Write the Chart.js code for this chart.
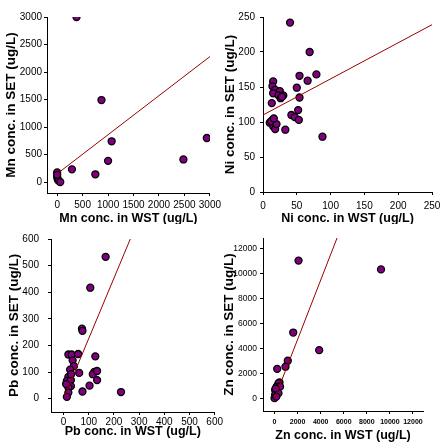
<!DOCTYPE html>
<html>
<head>
<meta charset="utf-8">
<script src="https://cdn.jsdelivr.net/npm/chart.js@4.4.0/dist/chart.umd.min.js"></script>
<style>
  html, body { margin: 0; padding: 0; background: #fff; }
  .panel { position: absolute; width: 224px; height: 224px; }
</style>
</head>
<body>
<div class="panel" style="left:0;top:0"><canvas id="g-mn" width="224" height="224"></canvas></div>
<div class="panel" style="left:224px;top:0"><canvas id="g-ni" width="224" height="224"></canvas></div>
<div class="panel" style="left:0;top:224px"><canvas id="g-pb" width="224" height="224"></canvas></div>
<div class="panel" style="left:224px;top:224px"><canvas id="g-zn" width="224" height="224"></canvas></div>
<script>
// Mn
const MN_X = [380, 870, 1070, 1000, 750, 290, 2480, 2940, 0, 0, 10, 30, 60, 0];
const MN_Y = [3000, 1490, 740, 385, 140, 230, 410, 800, 175, 90, 50, 20, 0, 130];
const MN_TREND_X = [0, 3000];
const MN_TREND_Y = [150, 2280];
const MN_TICKS = [0, 500, 1000, 1500, 2000, 2500, 3000];

// Ni
const NI_X = [40, 69, 54, 66, 79, 15, 14, 18, 25, 15, 23, 30, 26, 50, 54, 13, 52, 42, 47, 53, 14, 10, 15, 18, 33, 88, 12, 20, 16, 28];
const NI_Y = [242, 200, 166, 159, 168, 158, 151, 146, 144, 141, 138, 138, 134, 149, 135, 127, 117, 110, 107, 103, 103, 99, 94, 90, 89, 79, 101, 97, 105, 136];
const NI_TREND_X = [0, 250];
const NI_TREND_Y = [110, 239];
const NI_TICKS = [0, 50, 100, 150, 200, 250];

// Pb
const PB_X = [167, 106, 73, 75, 19, 32, 58, 126, 36, 41, 26, 62, 122, 116, 133, 19, 13, 29, 133, 103, 29, 19, 75, 228, 19, 13, 10, 30];
const PB_Y = [533, 417, 263, 255, 166, 166, 168, 159, 144, 122, 109, 97, 101, 92, 104, 82, 67, 70, 70, 49, 47, 42, 27, 25, 23, 7, 55, 92];
const PB_TREND_X = [4, 265];
const PB_TREND_Y = [9, 600];
const PB_TICKS = [0, 100, 200, 300, 400, 500, 600];

// Zn
const ZN_X = [2080, 9230, 1620, 3870, 1150, 950, 230, 430, 290, 350, 200, 50, 200, 50, 0, 480, 340, 100, 150];
const ZN_Y = [11060, 10350, 5290, 3880, 3030, 2550, 2380, 1300, 1090, 1230, 960, 690, 560, 300, 30, 950, 430, 800, 150];
const ZN_TREND_X = [30, 5420];
const ZN_TREND_Y = [50, 12870];
const ZN_TICKS = [0, 2000, 4000, 6000, 8000, 10000, 12000];

const FAMILIA = 'Arial, "Liberation Sans", sans-serif';

function puntos(xs, ys) {
  return xs.map((x, i) => ({ x, y: ys[i] }));
}

function crearPanel(id, p) {
  const ejeX = {
    type: 'linear',
    min: p.xMin,
    max: p.xMax,
    afterBuildTicks: (s) => { s.ticks = p.xTicks.map((v) => ({ value: v })); },
    afterFit: (s) => { s.height = p.altoX; },
    grid: { drawOnChartArea: false, tickLength: 3, color: '#000' },
    border: { color: '#000' },
    ticks: {
      font: p.fuenteX, color: '#000', padding: p.padX, maxRotation: 0, autoSkip: false,
      callback: (v) => String(v),
    },
    title: {
      display: true, text: p.tituloX, color: '#000',
      font: { family: FAMILIA, size: 12.5, weight: 'bold' },
      padding: { top: 0, bottom: p.padTituloX },
    },
  };
  const ejeY = {
    type: 'linear',
    min: p.yMin,
    max: p.yMax,
    afterBuildTicks: (s) => { s.ticks = p.yTicks.map((v) => ({ value: v })); },
    afterFit: (s) => { s.width = p.anchoY; },
    grid: { drawOnChartArea: false, tickLength: 3, color: '#000' },
    border: { color: '#000' },
    ticks: {
      font: p.fuenteY, color: '#000', padding: p.padY, autoSkip: false,
      callback: (v) => String(v),
    },
    title: {
      display: true, text: p.tituloY, color: '#000',
      font: { family: FAMILIA, size: 13.5, weight: 'bold' },
      padding: { top: p.padTituloY, bottom: 0 },
    },
  };

  return new Chart(document.getElementById(id), {
    type: 'scatter',
    data: {
      datasets: [
        {
          data: puntos(p.tendX, p.tendY),
          showLine: true,
          borderColor: '#990000',
          borderWidth: 1,
          pointRadius: 0,
        },
        {
          data: puntos(p.xs, p.ys),
          pointStyle: 'circle',
          pointRadius: 3.5,
          backgroundColor: '#800080',
          borderColor: '#000',
          borderWidth: 1.3,
        },
      ],
    },
    options: {
      responsive: false,
      animation: false,
      layout: { padding: { top: p.arriba, right: p.derecha, bottom: 0, left: 0 } },
      plugins: { legend: { display: false }, tooltip: { enabled: false } },
      scales: { x: ejeX, y: ejeY },
    },
  });
}

const fuente10 = { family: FAMILIA, size: 10 };

crearPanel('g-mn', {
  xs: MN_X, ys: MN_Y, tendX: MN_TREND_X, tendY: MN_TREND_Y,
  xMin: -200, xMax: 3000, yMin: -200, yMax: 3000, xTicks: MN_TICKS, yTicks: MN_TICKS,
  tituloX: 'Mn conc. in WST (ug/L)', tituloY: 'Mn conc. in SET (ug/L)',
  arriba: 17, derecha: 13, anchoY: 47, altoX: 31,
  fuenteX: fuente10, fuenteY: fuente10, padX: 3, padY: 2, padTituloX: -2.5, padTituloY: 3,
});

crearPanel('g-ni', {
  xs: NI_X, ys: NI_Y, tendX: NI_TREND_X, tendY: NI_TREND_Y,
  xMin: 0, xMax: 250, yMin: 0, yMax: 250, xTicks: NI_TICKS, yTicks: NI_TICKS,
  tituloX: 'Ni conc. in WST (ug/L)', tituloY: 'Ni conc. in SET (ug/L)',
  arriba: 17, derecha: 16, anchoY: 39, altoX: 32,
  fuenteX: fuente10, fuenteY: fuente10, padX: 5, padY: 5, padTituloX: -2.5, padTituloY: -2,
});

crearPanel('g-pb', {
  xs: PB_X, ys: PB_Y, tendX: PB_TREND_X, tendY: PB_TREND_Y,
  xMin: -50, xMax: 600, yMin: -50, yMax: 600, xTicks: PB_TICKS, yTicks: PB_TICKS,
  tituloX: 'Pb conc. in WST (ug/L)', tituloY: 'Pb conc. in SET (ug/L)',
  arriba: 13, derecha: 5, anchoY: 51, altoX: 36,
  fuenteX: fuente10, fuenteY: fuente10, padX: 1, padY: 9, padTituloX: 8.5, padTituloY: 6,
});

crearPanel('g-zn', {
  xs: ZN_X, ys: ZN_Y, tendX: ZN_TREND_X, tendY: ZN_TREND_Y,
  xMin: -1000, xMax: 12870, yMin: -1000, yMax: 12870, xTicks: ZN_TICKS, yTicks: ZN_TICKS,
  tituloX: 'Zn conc. in WST (ug/L)', tituloY: 'Zn conc. in SET (ug/L)',
  arriba: 14, derecha: 25, anchoY: 39, altoX: 37,
  fuenteX: { family: FAMILIA, size: 7, weight: 'bold' }, fuenteY: { family: FAMILIA, size: 8.5 },
  padX: 3.5, padY: 3, padTituloX: 4.5, padTituloY: -3,
});
</script>
</body>
</html>
